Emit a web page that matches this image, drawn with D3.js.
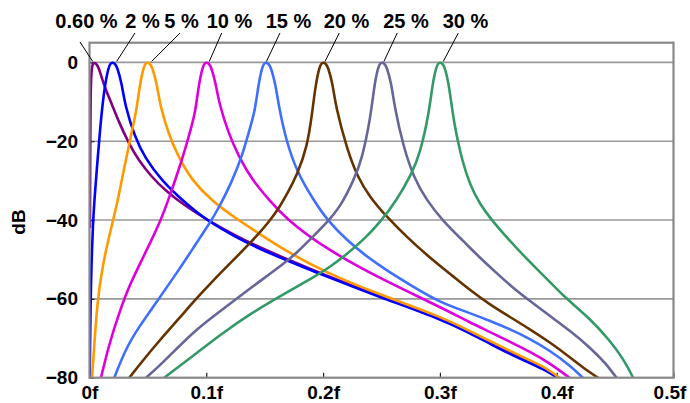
<!DOCTYPE html>
<html>
<head>
<meta charset="utf-8">
<script src="https://cdn.jsdelivr.net/npm/d3@7"></script>
<style>
  html, body { margin: 0; padding: 0; background: #fff; }
  svg { display: block; }
  text { font-family: "Liberation Sans", Arial, sans-serif; font-weight: bold; fill: #000; }
</style>
</head>
<body>
<svg id="chart" width="690" height="403"></svg>
<script>
// ---------------- data ----------------
const seriesLabels = ["0.60 %", "2 %", "5 %", "10 %", "15 %", "20 %", "25 %", "30 %"];
const yTickValues = [0, -20, -40, -60, -80];
const gridValues = [0, -20, -40, -60];
const xTickValues = [0, 0.1, 0.2, 0.3, 0.4, 0.5];
const xTickLabels = ["0f", "0.1f", "0.2f", "0.3f", "0.4f", "0.5f"];

// [frequency (fraction of fs), dB]
const s060 = [[0.0004,-42],[0.0006,-22],[0.0009,-9],[0.0014,-3.5],[0.0022,-0.8],[0.0035,0],[0.0055,-0.25],[0.0077,-1.1],[0.0116,-5],[0.0147,-7.5],[0.019,-10.5],[0.025,-15],[0.034,-20.8],[0.042,-24.8],[0.053,-29],[0.065,-32.5],[0.08,-36],[0.1,-39.8],[0.125,-44],[0.147,-47.1],[0.168,-49.8],[0.2,-53.8],[0.249,-59.4],[0.3,-64.8],[0.3258,-68.4],[0.343,-71],[0.36,-73.6],[0.377,-76],[0.3914,-78],[0.4005,-79.9],[0.41,-82]];
const s2 = [[0.0002,-80],[0.0004,-73],[0.001,-60.5],[0.0016,-52],[0.003,-40.5],[0.0042,-35],[0.006,-28],[0.0081,-20.5],[0.0101,-13.5],[0.0131,-5.8],[0.0164,-1.1],[0.0181,-0.25],[0.0195,0],[0.0215,-0.25],[0.0237,-1.1],[0.0276,-5.3],[0.0305,-11],[0.0388,-18.9],[0.0474,-24.2],[0.0618,-30],[0.0819,-35.6],[0.1,-40],[0.125,-44.3],[0.147,-47.5],[0.168,-50.1],[0.2,-54],[0.249,-59.6],[0.3,-65],[0.3258,-68.7],[0.343,-71.4],[0.36,-74],[0.377,-76.3],[0.3914,-78.2],[0.4005,-80],[0.41,-82]];
const s5 = [[0.0021,-80],[0.0033,-75.5],[0.0047,-69],[0.007,-60.5],[0.0098,-54.3],[0.0141,-47.5],[0.02,-40.3],[0.025,-34],[0.0302,-26],[0.0355,-18.5],[0.0401,-12.5],[0.0431,-5.6],[0.0464,-1.1],[0.0481,-0.25],[0.0495,0],[0.0515,-0.25],[0.0537,-1.1],[0.0576,-5.3],[0.0605,-11],[0.0675,-18],[0.0761,-24],[0.0876,-29.9],[0.1049,-35.2],[0.125,-39.5],[0.148,-44],[0.168,-47.8],[0.2,-53],[0.249,-59],[0.3,-64.4],[0.3258,-68.2],[0.343,-70.7],[0.36,-73.2],[0.377,-75.6],[0.3914,-77.6],[0.4022,-80],[0.412,-82]];
const s10 = [[0.0098,-80],[0.017,-71.3],[0.0255,-63.5],[0.0341,-56.5],[0.0484,-48],[0.0612,-40],[0.068,-34.5],[0.0761,-27.5],[0.0819,-22],[0.0876,-16],[0.0906,-12.5],[0.0936,-5.6],[0.0969,-1.1],[0.0986,-0.25],[0.1,0],[0.102,-0.25],[0.1042,-1.1],[0.1081,-5.3],[0.111,-10.5],[0.119,-18],[0.128,-24],[0.139,-29.7],[0.154,-35],[0.168,-39.6],[0.2,-46.9],[0.249,-54.9],[0.3,-62],[0.3258,-66],[0.343,-68.4],[0.36,-70.9],[0.377,-73.4],[0.394,-76.3],[0.4108,-80],[0.42,-82]];
const s15 = [[0.0212,-80],[0.0312,-72.5],[0.0426,-67],[0.0569,-61],[0.0769,-52.5],[0.0912,-46],[0.102,-41.2],[0.111,-36.8],[0.122,-30.2],[0.131,-23.5],[0.137,-17],[0.1416,-12.5],[0.1446,-5.6],[0.1479,-1.1],[0.1496,-0.25],[0.151,0],[0.153,-0.25],[0.1552,-1.1],[0.1591,-5.3],[0.162,-11],[0.168,-19.5],[0.1778,-28],[0.192,-35],[0.2034,-40],[0.2205,-45.2],[0.2375,-49.3],[0.2545,-52.8],[0.277,-56.9],[0.3,-60.9],[0.3258,-63.6],[0.343,-65.6],[0.36,-67.7],[0.377,-70.1],[0.394,-73.1],[0.4114,-76.9],[0.4222,-80],[0.43,-82]];
const s20 = [[0.0341,-80],[0.0455,-75.7],[0.0598,-70.6],[0.0769,-64.9],[0.0912,-60],[0.105,-55.6],[0.122,-50.5],[0.139,-45.4],[0.154,-40.4],[0.1636,-36.3],[0.1693,-33.3],[0.1778,-28.5],[0.1864,-21.4],[0.1906,-13],[0.1936,-5.6],[0.1969,-1.1],[0.1986,-0.25],[0.2,0],[0.202,-0.25],[0.2042,-1.1],[0.2081,-5.3],[0.211,-11.5],[0.2205,-22],[0.229,-28.8],[0.24,-34.2],[0.2545,-39.2],[0.2716,-44.3],[0.2915,-49.6],[0.3114,-54.3],[0.3258,-57.8],[0.343,-61.5],[0.36,-64.6],[0.377,-67.7],[0.394,-71],[0.4114,-74.8],[0.4257,-78.2],[0.4356,-80],[0.445,-82]];
const s25 = [[0.0484,-80],[0.0598,-77],[0.0741,-72.8],[0.0912,-67.8],[0.111,-63.3],[0.139,-57],[0.168,-50.7],[0.1778,-48.2],[0.192,-44],[0.202,-41],[0.2148,-36.7],[0.2261,-29.9],[0.2332,-24.8],[0.2409,-13.5],[0.2439,-5.6],[0.2472,-1.1],[0.2489,-0.25],[0.2503,0],[0.2523,-0.25],[0.2545,-1.1],[0.2584,-5.3],[0.2613,-11.5],[0.2688,-21.4],[0.2773,-29],[0.2886,-35],[0.3028,-40.3],[0.32,-45.3],[0.334,-49.5],[0.348,-53.3],[0.3629,-57.3],[0.377,-60.5],[0.394,-64.3],[0.4114,-68.1],[0.4285,-72.3],[0.4428,-76.6],[0.4508,-80],[0.458,-82]];
const s30 = [[0.064,-80],[0.0769,-77.1],[0.0912,-73.9],[0.111,-69.3],[0.139,-63.5],[0.168,-58.5],[0.192,-54.5],[0.206,-51.9],[0.2205,-48.6],[0.2347,-45],[0.249,-40.5],[0.263,-35],[0.276,-28.2],[0.283,-23.1],[0.2906,-13],[0.2936,-5.6],[0.2969,-1.1],[0.2986,-0.25],[0.3,0],[0.302,-0.25],[0.304,-1],[0.3074,-5.2],[0.3102,-11.2],[0.3124,-15.5],[0.3152,-19.8],[0.3195,-25.3],[0.3252,-30.6],[0.3337,-35.8],[0.3452,-40.3],[0.3566,-44.2],[0.3709,-48.8],[0.387,-53.6],[0.4005,-57.6],[0.4085,-60],[0.4285,-65],[0.4456,-70.6],[0.457,-75.2],[0.4656,-80],[0.47,-83]];

const seriesData = [s060, s2, s5, s10, s15, s20, s25, s30];

// ---------------- styles / layout ----------------
const seriesColors = ["#800080", "#0000ff", "#ff9900", "#dd00dd", "#3f6fff", "#663300", "#666699", "#339966"];
// leader line / label offsets relative to each peak: [lineEndDx, lineStartDx, lineStartY, labelDx]
const labelLayout = [[-0.9,-13.6,42,-7.1],[4.4,22.7,33,30.2],[4.4,32.7,33,34.2],[3,15.4,33,23.2],[0.6,14.1,33,22.6],[1.9,16.2,33,23.4],[2.1,15.4,33,24.1],[3.4,18.4,33,25.6]];

const W = 690, H = 403;
const margin = {left: 89.5, right: 16.5, top: 42.7, bottom: 25.3};
const fontSize = 19;

const svg = d3.select("#chart");
const x = d3.scaleLinear().domain([0, 0.5]).range([margin.left, W - margin.right]);
const y = d3.scaleLinear().domain([-80, 5]).range([H - margin.bottom, margin.top]);

svg.append("defs").append("clipPath").attr("id", "plotclip")
  .append("rect")
  .attr("x", x(0)).attr("y", y(5))
  .attr("width", x(0.5) - x(0)).attr("height", y(-80) - y(5));

// gridlines
svg.append("g").selectAll("line").data(gridValues).join("line")
  .attr("x1", x(0)).attr("x2", x(0.5))
  .attr("y1", d => y(d)).attr("y2", d => y(d))
  .attr("stroke", "#999").attr("stroke-width", 1.6);

// y axis
const yAxis = svg.append("g").attr("transform", `translate(${x(0)},0)`)
  .call(d3.axisLeft(y).tickValues(yTickValues).tickSize(-5).tickPadding(11.5)
        .tickFormat(d => d === 0 ? "0" : "\u2212" + Math.abs(d)));
yAxis.select(".domain").remove();
yAxis.selectAll(".tick line").attr("stroke", "#222").attr("stroke-width", 1.2);
yAxis.selectAll(".tick text").attr("font-size", fontSize).attr("font-weight", "bold")
  .attr("font-family", "Liberation Sans, Arial, sans-serif").attr("fill", "#000");

// x axis
const xAxis = svg.append("g").attr("transform", `translate(0,${y(-80)})`)
  .call(d3.axisBottom(x).tickValues(xTickValues).tickSize(-5).tickPadding(8)
        .tickFormat((d, i) => xTickLabels[i]));
xAxis.select(".domain").remove();
xAxis.selectAll(".tick line").attr("stroke", "#222").attr("stroke-width", 1.2);
xAxis.selectAll(".tick text").attr("font-size", fontSize).attr("font-weight", "bold")
  .attr("font-family", "Liberation Sans, Arial, sans-serif").attr("fill", "#000")
  .each(function() {
    // keep the last label inside the window
    const bb = this.getBBox();
    const tr = this.parentNode.transform.baseVal.consolidate().matrix.e;
    const right = tr + bb.x + bb.width;
    if (right > W - 3) d3.select(this).attr("x", (W - 3) - right);
  });

// curves
const line = d3.line().x(d => x(d[0])).y(d => y(d[1])).curve(d3.curveBasis);
svg.append("g").attr("clip-path", "url(#plotclip)")
  .selectAll("path").data(seriesData).join("path")
  .attr("d", line)
  .attr("fill", "none")
  .attr("stroke", (d, i) => seriesColors[i])
  .attr("stroke-width", 2.6)
  .attr("stroke-linejoin", "round");

// plot border
svg.append("rect")
  .attr("x", x(0)).attr("y", y(5))
  .attr("width", x(0.5) - x(0)).attr("height", y(-80) - y(5))
  .attr("fill", "none").attr("stroke", "#888").attr("stroke-width", 2.2);

// peak labels with leader lines
const peaks = seriesData.map(s => d3.greatest(s, d => d[1])[0]);
const lg = svg.append("g");
seriesLabels.forEach((lab, i) => {
  const px = x(peaks[i]);
  const L = labelLayout[i];
  lg.append("line")
    .attr("x1", px + L[0]).attr("y1", y(0) - 1)
    .attr("x2", px + L[1]).attr("y2", L[2])
    .attr("stroke", "#000").attr("stroke-width", 1);
  lg.append("text")
    .attr("x", px + L[3]).attr("y", 28)
    .attr("text-anchor", "middle")
    .attr("font-size", 20)
    .text(lab);
});

// y axis title
svg.append("text")
  .attr("transform", `translate(24.5,${(y(0) + y(-80)) / 2 + 2}) rotate(-90)`)
  .attr("text-anchor", "middle")
  .attr("font-size", fontSize)
  .text("dB");
</script>
</body>
</html>
